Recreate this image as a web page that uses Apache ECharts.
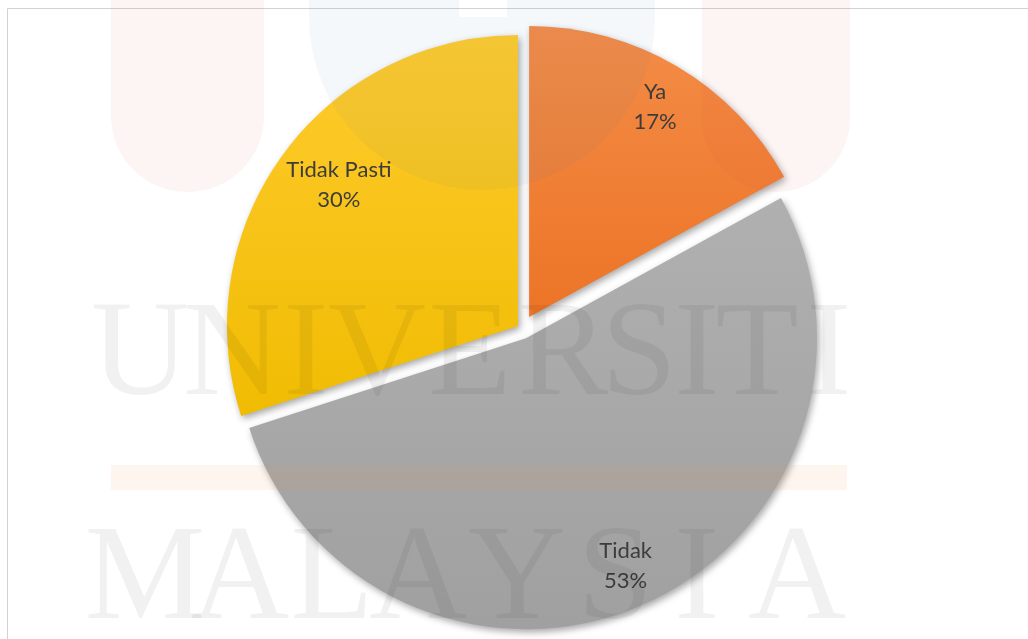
<!DOCTYPE html>
<html>
<head>
<meta charset="utf-8">
<title>Pie</title>
<script src="https://cdn.jsdelivr.net/npm/echarts@6/dist/echarts.min.js"></script>
<style>
  html, body { margin: 0; padding: 0; background: #fff; }
  #chart { width: 1028px; height: 639px; }
</style>
</head>
<body>
<div id="chart"></div>
<script>
// data
const categories = ["Ya", "Tidak", "Tidak Pasti"];
const values = [17, 53, 30];

// watermark text (background of the source page)
const watermarkTop = ["U", "N", "I", "V", "E", "R", "S", "I", "T", "I"];
const watermarkBottom = ["M", "A", "L", "A", "Y", "S", "I", "A"];

// styling
const sliceColors = [
  ["#F48C47", "#EC7426"],
  ["#B0B0B0", "#A0A0A0"],
  ["#FFCB2E", "#F0BC02"],
];
const sliceOffsets = [14, 10, 5];
const labelShift = [[4, -4], [3, 4], [22, 5]];
const pieCenter = [522, 329];
const pieRadius = 291;

const chart = echarts.init(document.getElementById("chart"));

function grad(c) {
  return new echarts.graphic.LinearGradient(0, 0, 0, 1, [
    { offset: 0, color: c[0] },
    { offset: 1, color: c[1] },
  ]);
}

// one series per slice so each slice can have its own explosion distance
let sliceSeries = categories.map((name, i) => {
  return {
    type: "pie",
    center: pieCenter,
    radius: [0, pieRadius],
    startAngle: 90,
    clockwise: true,
    silent: true,
    selectedMode: "multiple",
    selectedOffset: sliceOffsets[i],
    emphasis: { disabled: true },
    label: { show: false },
    labelLine: { show: false },
    animation: false,
    data: categories.map((n, j) => {
      let show = i === j;
      return {
        name: n,
        value: values[j],
        selected: show,
        itemStyle: show
          ? {
              color: grad(sliceColors[j]),
              shadowBlur: 7,
              shadowOffsetX: 2,
              shadowOffsetY: 3,
              shadowColor: "rgba(0,0,0,0.35)",
            }
          : { color: "transparent", shadowColor: "transparent" },
      };
    }),
  };
});

// transparent ring only used to place the labels further out
let labelSeries = {
  type: "pie",
  center: pieCenter,
  radius: [190, pieRadius],
  startAngle: 90,
  clockwise: true,
  silent: true,
  selectedMode: "multiple",
  selectedOffset: 10,
  emphasis: { disabled: true },
  animation: false,
  itemStyle: { color: "transparent" },
  label: {
    show: true,
    position: "inside",
    formatter: "{b}\n{d}%",
    color: "#3c3c3c",
    fontFamily: "Lato, 'Open Sans', sans-serif",
    fontSize: 22,
    lineHeight: 30,
    rotate: 0,
  },
  labelLayout: function (p) {
    return { dx: labelShift[p.dataIndex][0], dy: labelShift[p.dataIndex][1] };
  },
  labelLine: { show: false },
  data: categories.map((n, j) => ({ name: n, value: values[j], selected: true })),
};

// faint watermark
let wmFill = "rgba(0,0,0,0.055)";
let wmFont = "136px 'Liberation Serif', 'DejaVu Serif', serif";
let pink = "rgba(225,70,70,0.06)";
let blue = "rgba(60,120,180,0.05)";
let topX = [140, 232, 306, 377, 470, 563, 639, 697, 757, 829];
let bottomX = [145, 240, 332, 418, 517, 615, 697, 797];
let graphics = [
  {
    type: "rect",
    z: 0,
    silent: true,
    shape: { x: 7.5, y: 8.5, width: 1100, height: 700 },
    style: { fill: "none", stroke: "#d2d2d2", lineWidth: 1 },
  },
  {
    type: "rect",
    z: 100,
    silent: true,
    shape: { x: 111, y: -200, width: 153, height: 392, r: [0, 0, 76, 76] },
    style: { fill: pink },
  },
  {
    type: "rect",
    z: 100,
    silent: true,
    shape: { x: 702, y: -200, width: 148, height: 392, r: [0, 0, 74, 74] },
    style: { fill: pink },
  },
  {
    type: "rect",
    z: 100,
    silent: true,
    shape: { x: 309, y: -200, width: 150, height: 217 },
    style: { fill: blue },
  },
  {
    type: "rect",
    z: 100,
    silent: true,
    shape: { x: 507, y: -200, width: 148, height: 217 },
    style: { fill: blue },
  },
  {
    type: "sector",
    z: 100,
    silent: true,
    shape: { cx: 482, cy: 17, r0: 0, r: 173, startAngle: 0, endAngle: Math.PI, clockwise: true },
    style: { fill: blue },
  },
  {
    type: "rect",
    z: 100,
    silent: true,
    shape: { x: 111, y: 465, width: 736, height: 25 },
    style: { fill: "rgba(235,130,40,0.08)" },
  },
];
watermarkTop.forEach((ch, i) => {
  graphics.push({
    type: "text",
    z: 100,
    silent: true,
    x: topX[i],
    y: 358,
    style: { text: ch, font: wmFont, fill: wmFill, align: "center", verticalAlign: "middle" },
  });
});
watermarkBottom.forEach((ch, i) => {
  graphics.push({
    type: "text",
    z: 100,
    silent: true,
    x: bottomX[i],
    y: 582,
    style: { text: ch, font: wmFont, fill: wmFill, align: "center", verticalAlign: "middle" },
  });
});

chart.setOption({
  backgroundColor: "#ffffff",
  animation: false,
  graphic: { elements: graphics },
  series: sliceSeries.concat([labelSeries]),
});
</script>
</body>
</html>
